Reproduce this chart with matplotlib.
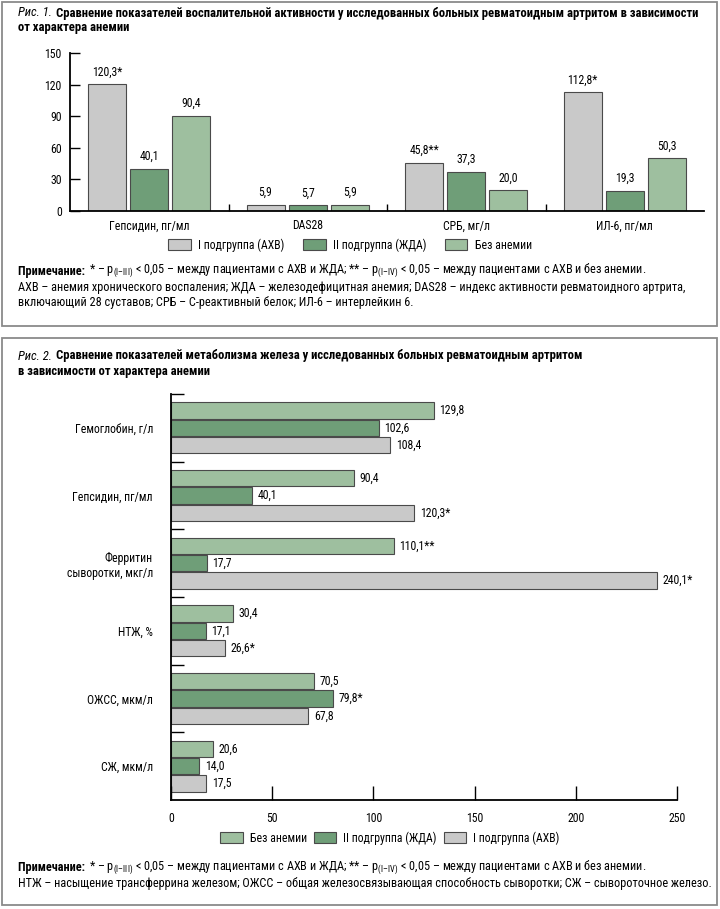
import matplotlib
matplotlib.use('Agg')
import matplotlib.pyplot as plt
from matplotlib import font_manager
from matplotlib.patches import Rectangle, Patch
import numpy as np

# condensed face if one is installed, otherwise a regular sans
names = set(f.name for f in font_manager.fontManager.ttflist)
main_font = 'Liberation Sans'
for cand in ['Liberation Sans Narrow', 'DejaVu Sans Condensed', 'Roboto Condensed',
             'Open Sans Condensed', 'Noto Sans Condensed']:
    if cand in names:
        main_font = cand
        break
plt.rcParams['font.family'] = [main_font, 'Liberation Sans', 'DejaVu Sans']
plt.rcParams['mathtext.fontset'] = 'custom'
plt.rcParams['mathtext.rm'] = main_font

# ---- data, figure 1
cats1 = ['Гепсидин, пг/мл', 'DAS28', 'СРБ, мг/л', 'ИЛ-6, пг/мл']
axv1 = [120.3, 5.9, 45.8, 112.8]
zhda1 = [40.1, 5.7, 37.3, 19.3]
noan1 = [90.4, 5.9, 20.0, 50.3]
axv1_st = ['*', '', '**', '*']
zhda1_st = ['', '', '', '']
noan1_st = ['', '', '', '']
yticks1 = [0, 30, 60, 90, 120, 150]

# ---- data, figure 2
cats2 = ['Гемоглобин, г/л', 'Гепсидин, пг/мл', 'Ферритин\nсыворотки, мкг/л',
         'НТЖ, %', 'ОЖСС, мкм/л', 'СЖ, мкм/л']
noan2 = [129.8, 90.4, 110.1, 30.4, 70.5, 20.6]
zhda2 = [102.6, 40.1, 17.7, 17.1, 79.8, 14.0]
axv2 = [108.4, 120.3, 240.1, 26.6, 67.8, 17.5]
noan2_st = ['', '', '**', '', '', '']
zhda2_st = ['', '', '', '', '*', '']
axv2_st = ['', '*', '*', '*', '', '']
xticks2 = [0, 50, 100, 150, 200, 250]

c_gray = '#c9c9c9'
c_dark = '#6f9e78'
c_light = '#9ebf9f'
c_edge = '#4a4a4a'
lab_axv = 'I подгруппа (АХВ)'
lab_zhda = 'II подгруппа (ЖДА)'
lab_noan = 'Без анемии'

title1 = [('Рис. 1. ', dict(style='italic')),
          ('Сравнение показателей воспалительной активности у исследованных больных ревматоидным артритом в зависимости',
           dict(weight='bold'))]
title1b = [('от характера анемии', dict(weight='bold'))]
title2 = [('Рис. 2. ', dict(style='italic')),
          ('Сравнение показателей метаболизма железа у исследованных больных ревматоидным артритом',
           dict(weight='bold'))]
title2b = [('в зависимости от характера анемии', dict(weight='bold'))]
note_p = [('Примечание: ', dict(weight='bold')),
          (r'* – p$_{\mathrm{(I–III)}}$ < 0,05 – между пациентами с АХВ и ЖДА; ** – p$_{\mathrm{(I–IV)}}$ < 0,05 – между пациентами с АХВ и без анемии.', {})]
note1b = [('АХВ – анемия хронического воспаления; ЖДА – железодефицитная анемия; DAS28 – индекс активности ревматоидного артрита,', {})]
note1c = [('включающий 28 суставов; СРБ – С-реактивный белок; ИЛ-6 – интерлейкин 6.', {})]
note2b = [('НТЖ – насыщение трансферрина железом; ОЖСС – общая железосвязывающая способность сыворотки; СЖ – сывороточное железо.', {})]

W, H = 720, 909
fig = plt.figure(figsize=(W/100, H/100), dpi=100)
renderer = fig.canvas.get_renderer()

def rect(x0, y0, x1, y1):
    return [x0/W, 1-y1/H, (x1-x0)/W, (y1-y0)/H]

def fmt(v, s):
    return ('%.1f' % v).replace('.', ',') + s

def rich(x, y, parts, size):
    # place text pieces one after another on the same line, return right edge
    for txt, kw in parts:
        t = fig.text(x/W, 1-y/H, txt, fontsize=size, va='center', ha='left', **kw)
        bb = t.get_window_extent(renderer)
        x = bb.x1 + 1
    return x, t

def fit(parts, width, size=10):
    # font size at which the line is `width` pixels long
    x, _ = rich(0, -100, parts, size)
    for t in fig.texts[:]:
        t.remove()
    return size * width / x

ts = min(fit(title1, 705 - 18), 9.5)
ns = min(fit(note2b, 707 - 18), 9.0)

# panel frames
for y0, y1 in [(2, 326), (338, 905)]:
    fig.patches.append(Rectangle((2/W, 1-y1/H), 715/W, (y1-y0)/H, transform=fig.transFigure,
                                 fill=False, edgecolor='#8a8a8a', linewidth=1.3))

fs = 8.5

# ---- figure 1
rich(18, 13, title1, ts)
rich(18, 28, title1b, ts)

ax1 = fig.add_axes(rect(70, 53, 704, 211))
x = np.arange(len(cats1)) + 0.5
off = 0.266
bw = 0.24
for vals, st, col, dx in [(axv1, axv1_st, c_gray, -off), (zhda1, zhda1_st, c_dark, 0),
                          (noan1, noan1_st, c_light, off)]:
    bars = ax1.bar(x + dx, vals, bw, color=col, edgecolor=c_edge, linewidth=0.8)
    for b, v, s in zip(bars, vals, st):
        ax1.annotate(fmt(v, s), (b.get_x() + b.get_width()/2, v), xytext=(0, 4),
                     textcoords='offset points', ha='center', va='bottom', fontsize=fs)
ax1.set_xlim(0, len(cats1))
ax1.set_ylim(0, 150)
ax1.set_yticks(yticks1)
ax1.set_xticks([1, 2, 3])
ax1.set_xticklabels([])
ax1.set_xticks(x, minor=True)
ax1.set_xticklabels(cats1, minor=True)
ax1.tick_params(axis='x', which='major', direction='in', length=5, width=1)
ax1.tick_params(axis='x', which='minor', length=0, pad=6, labelsize=fs)
ax1.tick_params(axis='y', direction='in', length=7, width=1, pad=6, labelsize=fs)
for sp in ['top', 'right']:
    ax1.spines[sp].set_visible(False)
for sp in ['left', 'bottom']:
    ax1.spines[sp].set_linewidth(1.3)
ax1.patch.set_alpha(0)

h1 = [Patch(facecolor=c, edgecolor=c_edge, linewidth=0.8) for c in (c_gray, c_dark, c_light)]
fig.legend(h1, [lab_axv, lab_zhda, lab_noan], loc='center', bbox_to_anchor=(350/W, 1-245/H),
           ncol=3, frameon=False, fontsize=fs, handlelength=1.9, handleheight=1.0,
           handletextpad=0.6, columnspacing=1.6)

rich(18, 271, note_p, ns)
rich(18, 287, note1b, ns)
rich(18, 303, note1c, ns)

# ---- figure 2
rich(18, 356, title2, ts)
rich(18, 371, title2b, ts)

ax2 = fig.add_axes(rect(171, 394, 677, 800))
y = np.arange(len(cats2)) + 0.5
off2 = 0.256
bh = 0.237
for vals, st, col, dy in [(noan2, noan2_st, c_light, -off2), (zhda2, zhda2_st, c_dark, 0),
                          (axv2, axv2_st, c_gray, off2)]:
    bars = ax2.barh(y + dy, vals, bh, color=col, edgecolor=c_edge, linewidth=0.8)
    for b, v, s in zip(bars, vals, st):
        ax2.annotate(fmt(v, s), (v, b.get_y() + b.get_height()/2), xytext=(4, 0),
                     textcoords='offset points', ha='left', va='center', fontsize=fs)
ax2.set_xlim(0, 250)
ax2.set_ylim(len(cats2), 0)
ax2.set_xticks(xticks2)
ax2.set_yticks(np.arange(len(cats2)))
ax2.set_yticklabels([])
ax2.set_yticks(y, minor=True)
ax2.set_yticklabels(cats2, minor=True)
ax2.tick_params(axis='y', which='major', direction='in', length=9, width=1)
ax2.tick_params(axis='y', which='minor', length=0, pad=13, labelsize=fs)
ax2.tick_params(axis='x', direction='in', length=10, width=1, pad=9, labelsize=fs)
for sp in ['top', 'right']:
    ax2.spines[sp].set_visible(False)
for sp in ['left', 'bottom']:
    ax2.spines[sp].set_linewidth(1.3)
ax2.patch.set_alpha(0)

h2 = [Patch(facecolor=c, edgecolor=c_edge, linewidth=0.8) for c in (c_light, c_dark, c_gray)]
fig.legend(h2, [lab_noan, lab_zhda, lab_axv], loc='center', bbox_to_anchor=(390/W, 1-838/H),
           ncol=3, frameon=False, fontsize=fs, handlelength=1.9, handleheight=1.0,
           handletextpad=0.6, columnspacing=0.6)

rich(18, 868, note_p, ns)
rich(18, 884, note2b, ns)

fig.savefig('out.png', dpi=100)
